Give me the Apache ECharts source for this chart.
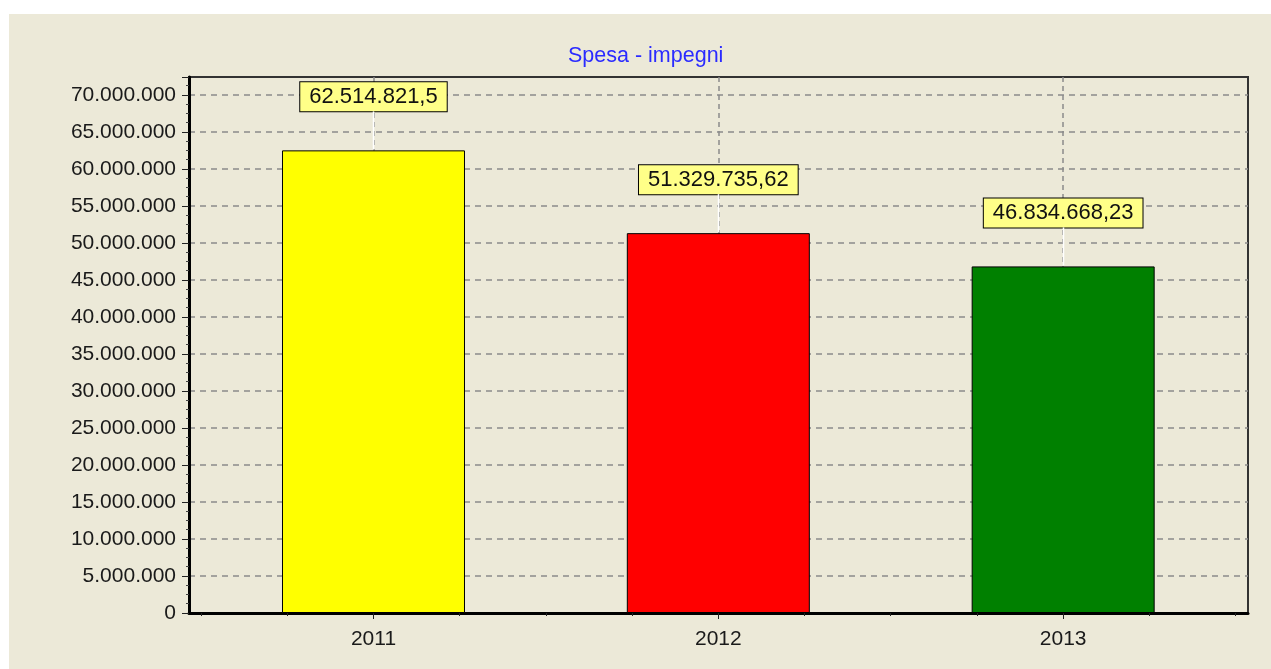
<!DOCTYPE html>
<html>
<head>
<meta charset="utf-8">
<title>Spesa - impegni</title>
<script src="https://cdn.jsdelivr.net/npm/echarts@6/dist/echarts.min.js"></script>
<style>
    html, body { margin: 0; padding: 0; background: #fff; }
    #chartMain { width: 1271px; height: 669px; }
</style>
</head>
<body>
<div id="chartMain"></div>
<script>
// dati
const years = ['2011', '2012', '2013']
const impegni = [62514821.5, 51329735.62, 46834668.23]
const barColors = ['#FFFF00', '#FF0000', '#008000']
const yMax = 72430000
const yStep = 5000000

// formato italiano: 62.514.821,5
function fmtIt(v, decimals) {
    let s = decimals ? String(Math.round(v * 100) / 100) : String(Math.round(v))
    let parts = s.split('.')
    let intPart = parts[0].replace(/\B(?=(\d{3})+(?!\d))/g, '.')
    return parts[1] ? intPart + ',' + parts[1] : intPart
}

const font = "'Liberation Sans', Arial, sans-serif"
const labelGap = 39 // distanza etichetta - barra (px)
const quarterTicks = []
for (let q = -2; q <= 10; q++) quarterTicks.push(q / 4)

const chart = echarts.init(document.getElementById('chartMain'))
const option = {
    animation: false,
    backgroundColor: '#ffffff',
    graphic: [
        {
            type: 'rect',
            z: -10,
            silent: true,
            shape: { x: 9, y: 14, width: 1262, height: 655 },
            style: { fill: '#ECE9D8' },
        },
    ],
    title: {
        text: 'Spesa - impegni',
        left: 563,
        top: 40,
        textStyle: {
            color: '#2b2bff',
            fontFamily: font,
            fontSize: 21.5,
            fontWeight: 'normal',
        },
    },
    grid: {
        left: 189,
        top: 77,
        right: 23,
        bottom: 56,
        outerBoundsMode: 'none',
        show: true,
        borderColor: '#333333',
        borderWidth: 2,
        backgroundColor: 'transparent',
    },
    xAxis: [
        {
            type: 'value',
            min: -0.535,
            max: 2.536,
            axisLine: { show: true, onZero: false, lineStyle: { color: '#000', width: 3 } },
            axisTick: { show: true, length: 3, customValues: quarterTicks, lineStyle: { color: '#222' } },
            axisLabel: {
                customValues: [0, 1, 2],
                margin: 16,
                color: '#1a1a1a',
                fontFamily: font,
                fontSize: 21,
                formatter: (v) => years[Math.round(v)] || '',
            },
            splitLine: { show: false },
        },
        {
            // linee verticali tratteggiate sulle categorie
            type: 'value',
            min: -0.535,
            max: 2.536,
            position: 'bottom',
            axisLine: { show: false, onZero: false },
            axisTick: { show: true, length: 6, customValues: [0, 1, 2], lineStyle: { color: '#222' } },
            axisLabel: { show: false },
            splitLine: {
                show: true,
                lineStyle: { color: '#8a8a8a', type: [5, 4], width: 1.5 },
            },
        },
    ],
    yAxis: {
        type: 'value',
        min: 0,
        max: yMax,
        interval: yStep,
        axisLine: { show: true, onZero: false, lineStyle: { color: '#000', width: 3 } },
        axisTick: { show: true, length: 7, lineStyle: { color: '#222' } },
        minorTick: { show: true, splitNumber: 4, length: 3, lineStyle: { color: '#444' } },
        axisLabel: {
            margin: 13,
            color: '#1a1a1a',
            fontFamily: font,
            fontSize: 21,
            showMaxLabel: false,
            formatter: (v) => (v % yStep === 0 ? fmtIt(v, false) : ''),
        },
        splitLine: {
            show: true,
            showMaxLine: false,
            lineStyle: { color: '#8a8a8a', type: [6, 5], width: 1.5 },
        },
    },
    series: [
        {
            name: 'Spesa - impegni',
            type: 'bar',
            xAxisIndex: 0,
            barWidth: 183,
            data: impegni.map((v, i) => ({
                value: [i, v],
                itemStyle: { color: barColors[i] },
            })),
            itemStyle: {
                borderColor: '#000',
                borderWidth: 1,
            },
            label: {
                show: true,
                position: 'top',
                distance: labelGap,
                color: '#111',
                fontFamily: font,
                fontSize: 22,
                backgroundColor: '#FFFF88',
                borderColor: '#000',
                borderWidth: 1,
                padding: [4, 9, 3, 9],
                formatter: (p) => fmtIt(p.value[1], true),
            },
        },
        {
            // trattino bianco tra barra ed etichetta
            type: 'custom',
            xAxisIndex: 0,
            silent: true,
            z: 3,
            data: impegni.map((v, i) => [i, v]),
            renderItem: (params, api) => {
                const p = api.coord([api.value(0), api.value(1)])
                const x = Math.round(p[0]) + 0.5
                return {
                    type: 'line',
                    shape: { x1: x, y1: p[1] - 1, x2: x, y2: p[1] - labelGap },
                    style: { stroke: '#ffffff', lineWidth: 1.5 },
                }
            },
        },
    ],
}
option && chart.setOption(option)
window.onresize = () => {
    chart.resize()
}
</script>
</body>
</html>
